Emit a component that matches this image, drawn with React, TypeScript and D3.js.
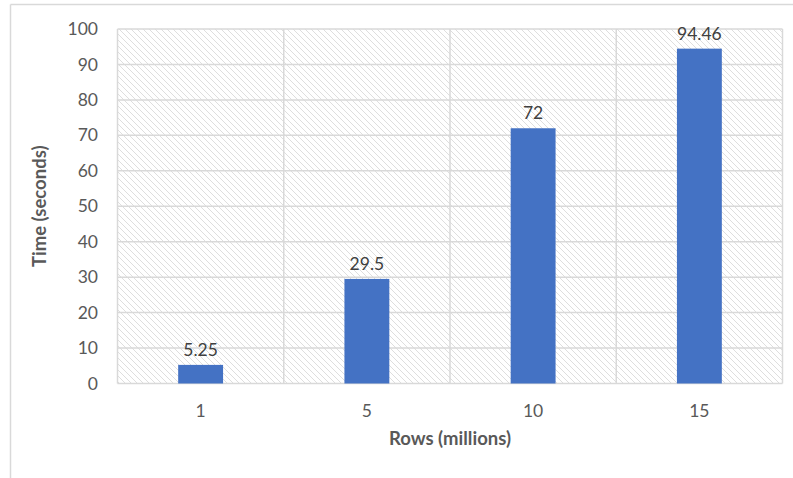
import React from "react";
import * as d3 from "d3";

const categories = ["1", "5", "10", "15"];
const values = [5.25, 29.5, 72, 94.46];
const valueLabels = ["5.25", "29.5", "72", "94.46"];
const yTicks = [0, 10, 20, 30, 40, 50, 60, 70, 80, 90, 100];

const W = 793;
const H = 478;
const plot = { left: 117.5, right: 782.5, top: 29, bottom: 383.5 };
const FONT = "Lato, 'Open Sans', sans-serif";

export default function App() {
  const x = d3.scaleBand<string>().domain(categories).range([plot.left, plot.right]).paddingInner(0).paddingOuter(0);
  const y = d3.scaleLinear().domain([0, 100]).range([plot.bottom, plot.top]);
  const bw = x.bandwidth() * 0.27;

  return (
    <svg width={W} height={H} style={{ position: "absolute", left: 0, top: 0, background: "#fff" }}>
      <defs>
        <pattern id="hatch" patternUnits="userSpaceOnUse" width={6} height={6}>
          <path d="M-1,-1 L7,7 M-1,5 L1,7 M5,-1 L7,1" stroke="#dedede" strokeWidth={1} />
        </pattern>
      </defs>
      {/* chart border */}
      <line x1={10.5} y1={4.5} x2={W} y2={4.5} stroke="#d9d9d9" strokeWidth={1.5} />
      <line x1={10.5} y1={4.5} x2={10.5} y2={H} stroke="#d9d9d9" strokeWidth={1.5} />

      {/* plot area */}
      <rect x={plot.left} y={plot.top} width={plot.right - plot.left} height={plot.bottom - plot.top} fill="url(#hatch)" />
      {yTicks.map((t) => (
        <line key={"h" + t} x1={plot.left} x2={plot.right} y1={y(t)} y2={y(t)} stroke="#d9d9d9" strokeWidth={1.5} />
      ))}
      {categories.map((c) => (
        <line key={"v" + c} x1={x(c)!} x2={x(c)!} y1={plot.top} y2={plot.bottom} stroke="#d9d9d9" strokeWidth={1.5} />
      ))}
      <line x1={plot.right} x2={plot.right} y1={plot.top} y2={plot.bottom} stroke="#d9d9d9" strokeWidth={1.5} />

      {/* bars */}
      {categories.map((c, i) => {
        const cx = x(c)! + x.bandwidth() / 2;
        return (
          <g key={"b" + c}>
            <rect x={cx - bw / 2} y={y(values[i])} width={bw} height={y(0) - y(values[i])} fill="#4472C4" />
            <text x={cx} y={y(values[i]) - 9} textAnchor="middle" fontFamily={FONT} fontSize={17.5} fill="#404040">
              {valueLabels[i]}
            </text>
          </g>
        );
      })}

      {/* y tick labels */}
      {yTicks.map((t) => (
        <text key={"yt" + t} x={98} y={y(t)} dy="0.35em" textAnchor="end" fontFamily={FONT} fontSize={17.5} fill="#595959">
          {t}
        </text>
      ))}
      {/* x tick labels */}
      {categories.map((c) => (
        <text key={"xt" + c} x={x(c)! + x.bandwidth() / 2} y={417} textAnchor="middle" fontFamily={FONT} fontSize={17.5} fill="#595959">
          {c}
        </text>
      ))}

      {/* axis titles */}
      <text x={(plot.left + plot.right) / 2} y={445} textAnchor="middle" fontFamily={FONT} fontSize={18.5} fontWeight="bold" fill="#595959">
        Rows (millions)
      </text>
      <text
        transform={`translate(46,${(plot.top + plot.bottom) / 2}) rotate(-90)`}
        textAnchor="middle"
        fontFamily={FONT}
        fontSize={18.5}
        fontWeight="bold"
        fill="#595959"
      >
        Time (seconds)
      </text>
    </svg>
  );
}
